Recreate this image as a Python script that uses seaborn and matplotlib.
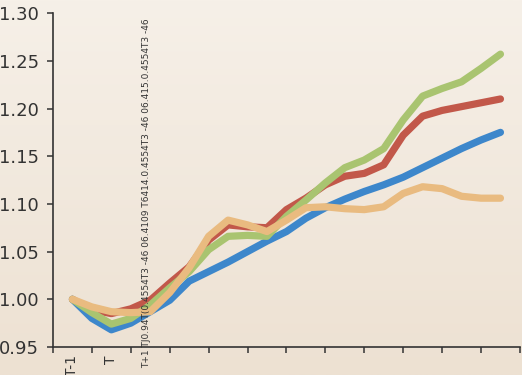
import numpy as np
import pandas as pd
import matplotlib
matplotlib.use("Agg")
import matplotlib.pyplot as plt
import matplotlib.transforms as mtransforms
from matplotlib import font_manager
import seaborn as sns

# periodos (leitura a cada meio periodo para acompanhar as curvas)
periodos = [0, 0.5, 1, 1.5, 2, 2.5, 3, 3.5, 4, 4.5, 5, 5.5,
            6, 6.5, 7, 7.5, 8, 8.5, 9, 9.5, 10, 10.5, 11]
categorias = list(range(12))
rotulos = ["T-1", "T", "", "", "", "", "", "", "", "", "", ""]
rotulo_quebrado = "T+1 TJ0.94T(0.4554T3 -46 06.4109 T6414.0.4554T3 -46 06.415.0.4554T3 -46"

azul = [1.000, 0.980, 0.968, 0.975, 0.987, 0.999, 1.019, 1.029, 1.039, 1.050, 1.061, 1.071,
        1.085, 1.096, 1.105, 1.113, 1.120, 1.128, 1.138, 1.148, 1.158, 1.167, 1.175]
vermelho = [1.000, 0.989, 0.985, 0.990, 0.999, 1.017, 1.034, 1.062, 1.078, 1.076, 1.075, 1.094,
            1.106, 1.120, 1.129, 1.132, 1.141, 1.172, 1.192, 1.198, 1.202, 1.206, 1.210]
verde = [1.000, 0.986, 0.974, 0.980, 0.994, 1.012, 1.029, 1.052, 1.066, 1.067, 1.066, 1.087,
         1.104, 1.122, 1.138, 1.146, 1.158, 1.188, 1.213, 1.221, 1.228, 1.242, 1.257]
laranja = [1.000, 0.992, 0.987, 0.986, 0.987, 1.007, 1.033, 1.066, 1.083, 1.078, 1.071, 1.083,
           1.096, 1.097, 1.095, 1.094, 1.097, 1.111, 1.118, 1.116, 1.108, 1.106, 1.106]

series = {"azul": azul, "vermelho": vermelho, "verde": verde, "laranja": laranja}
cores = {"azul": "#3d87cb", "vermelho": "#c2584a", "verde": "#a9c470", "laranja": "#e9bb80"}

df = pd.DataFrame([
    {"periodo": p, "serie": nome, "valor": v}
    for nome, vals in series.items() for p, v in zip(periodos, vals)
])

sns.set_style("ticks")
nomes = {f.name for f in font_manager.fontManager.ttflist}
if "Liberation Sans Narrow" in nomes:
    plt.rcParams["font.family"] = ["Liberation Sans Narrow", "DejaVu Sans"]
else:
    plt.rcParams["font.family"] = ["DejaVu Sans"]

fig = plt.figure(figsize=(5.22, 3.75), dpi=100)

# fundo com degrade bege
fundo = fig.add_axes([0, 0, 1, 1], zorder=-10)
grad = np.linspace(0, 1, 256).reshape(-1, 1)
cmap = matplotlib.colors.LinearSegmentedColormap.from_list("bg", ["#f6f0e8", "#ede1d2"])
fundo.imshow(grad, aspect="auto", cmap=cmap, extent=[0, 1, 0, 1])
fundo.axis("off")

ax = fig.add_axes([0.1015, 0.0747, 0.8945, 0.8903])
ax.patch.set_alpha(0)

for nome in series:
    sns.lineplot(data=df[df["serie"] == nome], x="periodo", y="valor", color=cores[nome],
                 linewidth=5.2, ax=ax, legend=False, solid_capstyle="round",
                 solid_joinstyle="round")

ax.set_xlim(-0.5, 11.5)
ax.set_ylim(0.95, 1.30)
yt = np.arange(0.95, 1.301, 0.05)
ax.set_yticks(yt)
ax.set_yticklabels([f"{t:.2f}" for t in yt], fontsize=13, color="#333333")
ax.set_xticks(np.arange(-0.5, 11.6, 1))
ax.set_xticklabels([])
ax.set_xticks(categorias, minor=True)
ax.set_xticklabels(rotulos, minor=True, rotation=90, fontsize=10, color="#333333")
ax.tick_params(axis="x", which="minor", length=0, pad=6)
ax.tick_params(axis="both", which="major", length=4, width=1.1, color="#333333")
ax.tick_params(axis="y", pad=6)
ax.set_xlabel("")
ax.set_ylabel("")
for s in ["top", "right"]:
    ax.spines[s].set_visible(False)
for s in ["left", "bottom"]:
    ax.spines[s].set_color("#333333")
    ax.spines[s].set_linewidth(1.2)

trans = mtransforms.blended_transform_factory(ax.transData, ax.transAxes)
ax.text(1.9, -0.062, rotulo_quebrado, transform=trans, rotation=90, ha="center", va="bottom",
        fontsize=6.5, color="#333333", clip_on=False)

fig.savefig("out.png", dpi=100, facecolor=fig.get_facecolor())
